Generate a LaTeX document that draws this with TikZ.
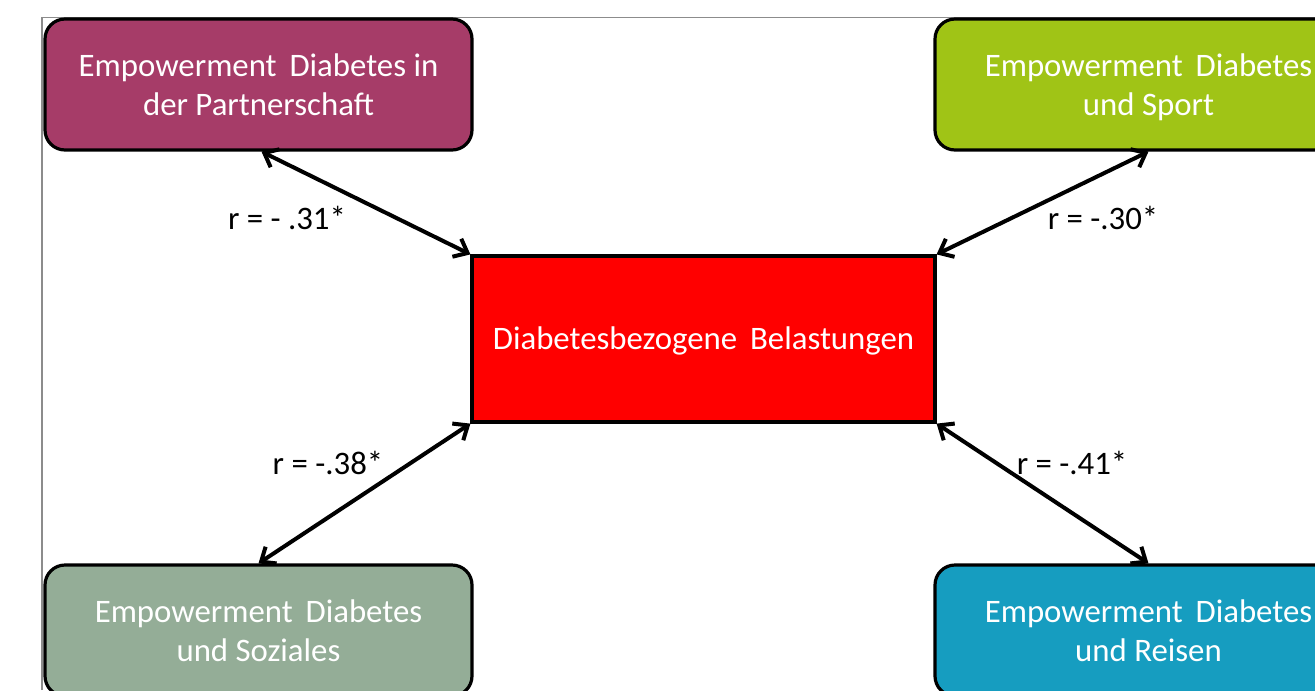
\documentclass[tikz,border=0pt]{standalone}
\usepackage{fontspec}
\setmainfont{Carlito}
\usetikzlibrary{arrows.meta}
\definecolor{cpartner}{HTML}{A63C68}
\definecolor{csport}{HTML}{A0C416}
\definecolor{csozial}{HTML}{94AD97}
\definecolor{creisen}{HTML}{169DC0}
\definecolor{cframe}{HTML}{8C8C8C}
\begin{document}
\begin{tikzpicture}[x=0.75pt,y=-0.75pt,
  empbox/.style={draw=black,line width=2.4pt,rounded corners=15pt,
    minimum width=320.25pt,minimum height=98.25pt,align=center,
    text=white,font=\fontsize{24.6}{29.5}\selectfont,inner sep=0pt,text depth=3.6pt},
  centerbox/.style={draw=black,line width=2.4pt,fill=red,
    minimum width=347.25pt,minimum height=124.5pt,
    text=white,font=\fontsize{24.6}{29.5}\selectfont,inner sep=0pt,text depth=0.8pt},
  corr/.style={text=black,font=\fontsize{24.6}{29.5}\selectfont,inner sep=0pt},
  link/.style={line width=3pt,{Straight Barb[length=9pt,width=15pt,line width=3pt]}-{Straight Barb[length=9pt,width=15pt,line width=3pt]}}
]
\useasboundingbox (0,0) rectangle (1315,690);
\clip (0,0) rectangle (1315,690);
\draw[cframe,line width=0.8pt] (42,690) -- (42,17.5) -- (1315,17.5);

\node[empbox,fill=cpartner] (tl) at (258.5,84.5) {\strut Empowerment\, Diabetes in\\\strut der Partnerschaft};
\node[empbox,fill=csport] (tr) at (1148.5,84.5) {\strut Empowerment\, Diabetes\\\strut und Sport};
\node[empbox,fill=csozial] (bl) at (258.5,630.5) {\strut Empowerment\, Diabetes\\\strut und Soziales};
\node[empbox,fill=creisen] (br) at (1148.5,630.5) {\strut Empowerment\, Diabetes\\\strut und Reisen};
\node[centerbox] (c) at (703.5,339) {Diabetesbezogene\, Belastungen};

\draw[link] (tl.south) ++(3,0) coordinate (tls) (tls) -- (c.north west);
\draw[link] (tr.south) -- (c.north east);
\draw[link] (c.south west) -- (bl.north);
\draw[link] (c.south east) -- (br.north);

\node[corr] (l1) at (287,218) {r = - .31*};
\node[corr] (l2) at (1103,218) {r = -.30*};
\node[corr] (l3) at (328,463) {r = -.38*};
\node[corr] (l4) at (1072,463) {r = -.41*};
\end{tikzpicture}
\end{document}
